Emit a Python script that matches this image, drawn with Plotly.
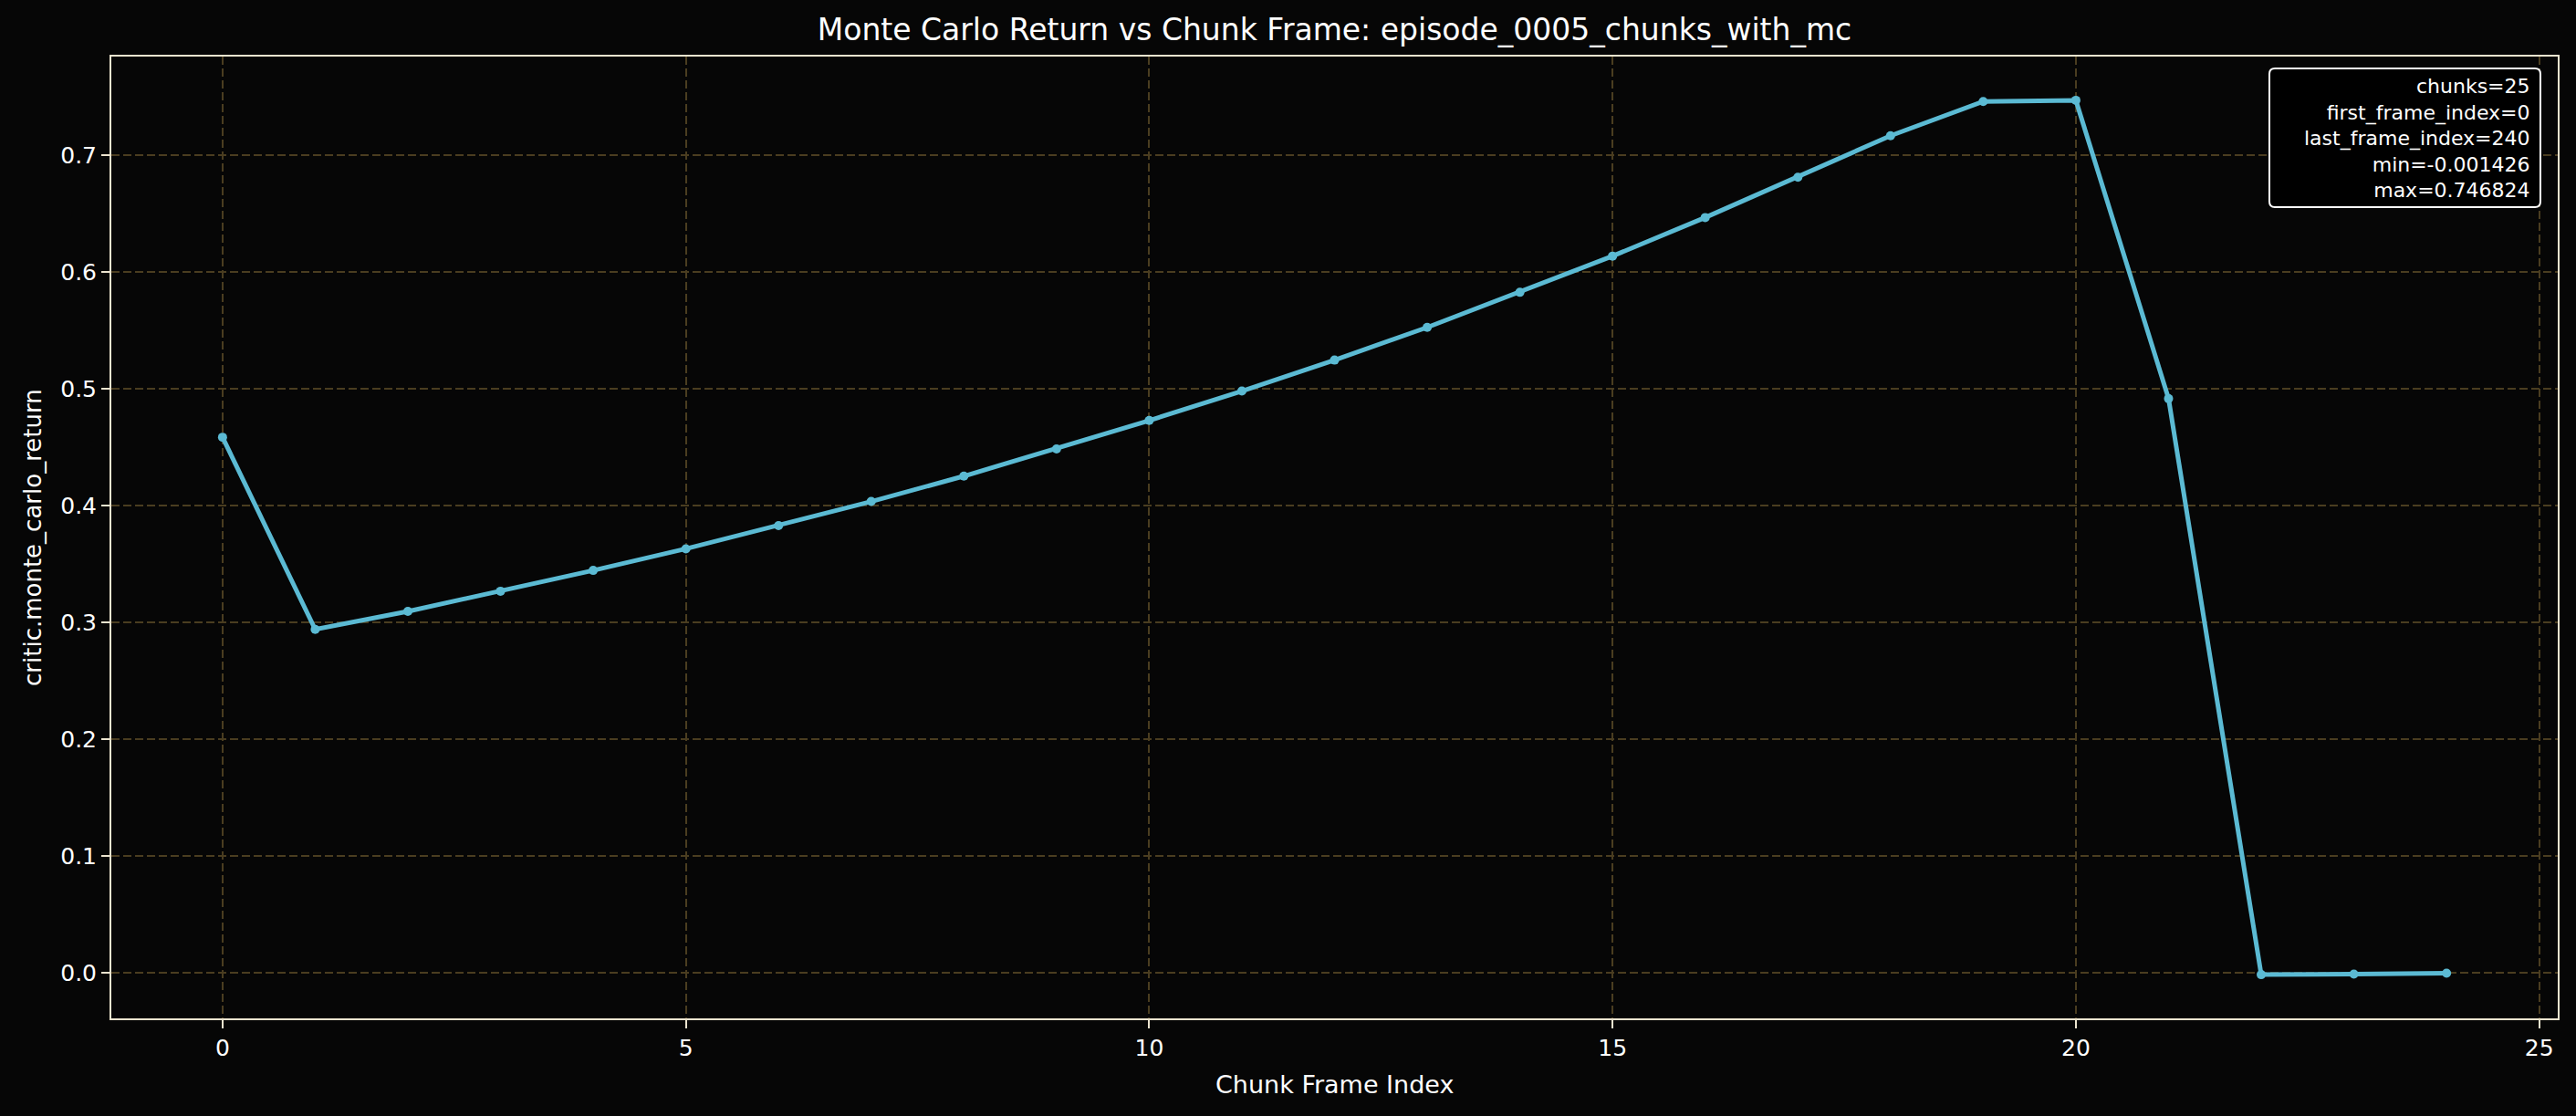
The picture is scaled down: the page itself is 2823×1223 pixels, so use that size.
import plotly.graph_objects as go

# ---- data ----
chunk_frame_index = list(range(25))
mc_return = [0.4585, 0.2940, 0.3095, 0.3267, 0.3445, 0.3630, 0.3828, 0.4035,
             0.4252, 0.4485, 0.4728, 0.4980, 0.5245, 0.5525, 0.5825, 0.6135,
             0.6465, 0.6810, 0.7165, 0.7458, 0.746824, 0.4915, -0.001426,
             -0.0009, -0.0002]
x_ticks = [0, 5, 10, 15, 20, 25]
y_ticks = [0.0, 0.1, 0.2, 0.3, 0.4, 0.5, 0.6, 0.7]
stats_lines = ["chunks=25", "first_frame_index=0", "last_frame_index=240",
               "min=-0.001426", "max=0.746824"]
title_text = "Monte Carlo Return vs Chunk Frame: episode_0005_chunks_with_mc"
x_label = "Chunk Frame Index"
y_label = "critic.monte_carlo_return"

W, H = 2823, 1223
L, R, T, B = 122, 20, 62, 107
pw, ph = W - L - R, H - T - B

def px(x):
    return (x - L) / pw

def py(y):
    return (H - B - y) / ph

BG = "#060606"
SPINE = "#ece4cf"
GRID = "#4a3d20"
LINE = "#5bbad3"
FONT = "DejaVu Sans"

fig = go.Figure()
fig.add_trace(go.Scatter(
    x=chunk_frame_index, y=mc_return, mode="lines+markers",
    line=dict(color=LINE, width=5),
    marker=dict(color=LINE, size=10),
    showlegend=False,
))

axis_common = dict(
    showline=True, linecolor=SPINE, linewidth=2, mirror=True,
    showgrid=True, gridcolor=GRID, gridwidth=1.8, griddash="9px,4px",
    ticks="outside", ticklen=9, tickwidth=2, tickcolor=SPINE,
    tickfont=dict(family=FONT, size=25, color="#ffffff"),
    zeroline=False,
)

xmin, xmax = 0, 24
xpad = (xmax - xmin) * 0.05
ymin, ymax = min(mc_return), max(mc_return)
ypad = (ymax - ymin) * 0.05

fig.update_xaxes(range=[xmin - xpad, xmax + xpad], tickvals=x_ticks,
                 ticktext=[str(v) for v in x_ticks], **axis_common)
fig.update_yaxes(range=[ymin - ypad, ymax + ypad], tickvals=y_ticks,
                 ticktext=[f"{v:.1f}" for v in y_ticks], **axis_common)

# rounded stats box
bx0, bx1, by0, by1 = px(2487), px(2784), py(227), py(75)
rx, ry = 6 / pw, 6 / ph
path = (f"M {bx0+rx},{by1} L {bx1-rx},{by1} Q {bx1},{by1} {bx1},{by1-ry} "
        f"L {bx1},{by0+ry} Q {bx1},{by0} {bx1-rx},{by0} "
        f"L {bx0+rx},{by0} Q {bx0},{by0} {bx0},{by0+ry} "
        f"L {bx0},{by1-ry} Q {bx0},{by1} {bx0+rx},{by1} Z")
fig.add_shape(type="path", path=path, xref="paper", yref="paper",
              line=dict(color="#ffffff", width=2), fillcolor="#000000",
              layer="above")

fig.add_annotation(
    text="<br>".join(stats_lines), xref="paper", yref="paper",
    x=px(2775), y=py(80), xanchor="right", yanchor="top", align="right",
    showarrow=False, font=dict(family=FONT, size=22, color="#ffffff"),
)

fig.add_annotation(text=x_label, xref="paper", yref="paper",
                   x=0.5, y=py(1188), xanchor="center", yanchor="middle",
                   showarrow=False, font=dict(family=FONT, size=27, color="#ffffff"))
fig.add_annotation(text=y_label, xref="paper", yref="paper",
                   x=px(36), y=0.5, xanchor="center", yanchor="middle",
                   textangle=-90, showarrow=False,
                   font=dict(family=FONT, size=26, color="#ffffff"))

fig.update_layout(
    width=W, height=H,
    margin=dict(l=L, r=R, t=T, b=B),
    paper_bgcolor=BG, plot_bgcolor=BG,
    title=dict(text=title_text, x=0.5, xref="paper", xanchor="center",
               y=1 - 32 / H, yref="container", yanchor="middle",
               font=dict(family=FONT, size=33, color="#ffffff")),
)

fig.write_html("out.html")
